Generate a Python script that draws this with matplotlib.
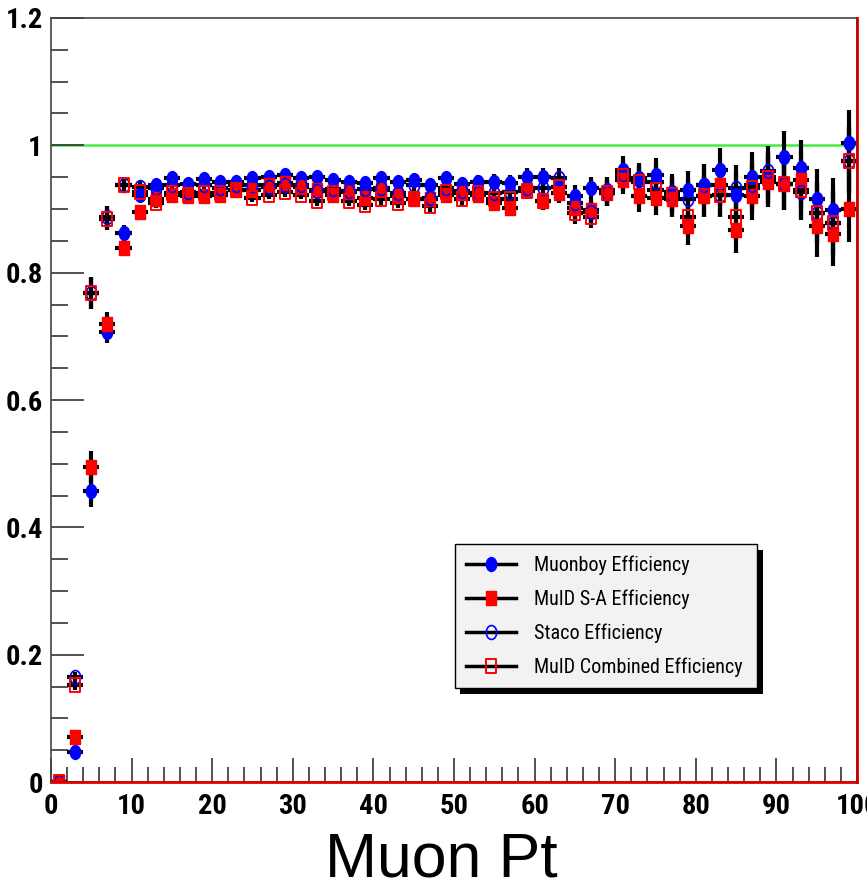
import numpy as np
import matplotlib
matplotlib.use("Agg")
import matplotlib.pyplot as plt
from matplotlib import font_manager, patheffects
from matplotlib.path import Path
from matplotlib.lines import Line2D
from matplotlib.ticker import MultipleLocator

# bin centres (2 GeV bins from 0 to 100)
pt_bins = np.arange(1, 100, 2)

muonboy_eff = [0.0, 0.047, 0.457, 0.707, 0.863, 0.922, 0.938, 0.949, 0.939, 0.947,
               0.943, 0.942, 0.949, 0.951, 0.954, 0.949, 0.951, 0.946, 0.943, 0.941,
               0.948, 0.943, 0.946, 0.938, 0.948, 0.939, 0.943, 0.943, 0.941, 0.951,
               0.951, 0.935, 0.920, 0.933, 0.930, 0.962, 0.948, 0.954, 0.927, 0.930,
               0.938, 0.962, 0.922, 0.951, 0.950, 0.981, 0.964, 0.915, 0.898, 1.003]
muid_sa_eff = [0.0, 0.071, 0.495, 0.720, 0.839, 0.896, 0.915, 0.922, 0.920, 0.920,
               0.922, 0.930, 0.930, 0.938, 0.941, 0.935, 0.930, 0.922, 0.927, 0.917,
               0.930, 0.920, 0.915, 0.915, 0.922, 0.925, 0.922, 0.909, 0.901, 0.930,
               0.912, 0.925, 0.901, 0.899, 0.925, 0.946, 0.920, 0.917, 0.915, 0.873,
               0.920, 0.938, 0.867, 0.920, 0.943, 0.940, 0.946, 0.873, 0.861, 0.900]
staco_eff = [0.0, 0.165, 0.768, 0.887, 0.938, 0.935, 0.933, 0.938, 0.927, 0.938,
             0.933, 0.937, 0.938, 0.935, 0.937, 0.937, 0.928, 0.932, 0.928, 0.932,
             0.933, 0.925, 0.938, 0.918, 0.933, 0.928, 0.925, 0.925, 0.927, 0.933,
             0.933, 0.948, 0.910, 0.895, 0.925, 0.955, 0.945, 0.943, 0.922, 0.915,
             0.938, 0.922, 0.933, 0.938, 0.959, 0.940, 0.927, 0.894, 0.878, 0.976]
muid_comb_eff = [0.0, 0.152, 0.768, 0.885, 0.938, 0.926, 0.909, 0.925, 0.922, 0.925,
                 0.925, 0.930, 0.918, 0.922, 0.926, 0.922, 0.912, 0.925, 0.912, 0.907,
                 0.915, 0.910, 0.915, 0.904, 0.927, 0.915, 0.925, 0.915, 0.915, 0.928,
                 0.912, 0.935, 0.894, 0.888, 0.925, 0.952, 0.943, 0.930, 0.922, 0.888,
                 0.920, 0.922, 0.888, 0.933, 0.948, 0.940, 0.930, 0.894, 0.878, 0.976]
# statistical error per bin (same sample for all algorithms)
eff_err = [0.0, 0.008, 0.025, 0.018, 0.012, 0.009, 0.008, 0.007, 0.007, 0.007,
           0.007, 0.007, 0.007, 0.007, 0.007, 0.007, 0.007, 0.007, 0.008, 0.008,
           0.008, 0.008, 0.009, 0.009, 0.010, 0.010, 0.011, 0.012, 0.012, 0.013,
           0.014, 0.016, 0.017, 0.018, 0.020, 0.022, 0.024, 0.026, 0.028, 0.030,
           0.032, 0.034, 0.036, 0.038, 0.040, 0.042, 0.045, 0.048, 0.050, 0.052]
bin_half_width = 1.0

labels = ["Muonboy Efficiency", "MuID S-A Efficiency", "Staco Efficiency", "MuID Combined Efficiency"]


# Pick a narrow sans font if one is around, ROOT labels look condensed
def pick_narrow():
    names = {f.name for f in font_manager.fontManager.ttflist}
    for cand in ["Liberation Sans Narrow", "Roboto Condensed", "Open Sans Condensed", "DejaVu Sans Condensed"]:
        if cand in names:
            return cand, "normal"
    path = font_manager.findfont(font_manager.FontProperties(family="DejaVu Sans", stretch="condensed", weight="bold"))
    if "Condensed" in path:
        return "DejaVu Sans", "condensed"
    return None, "normal"


narrow_family, narrow_stretch = pick_narrow()
if narrow_family:
    tick_fam = [narrow_family, "Liberation Sans", "DejaVu Sans"]
    tick_size, leg_size = 20.5, 14.5
else:
    tick_fam = ["Liberation Sans", "DejaVu Sans"]
    tick_size, leg_size = 18, 12.5

# ROOT-ish stretched markers
ellipse = Path.unit_circle().transformed(matplotlib.transforms.Affine2D().scale(0.75, 1.0))
rect = Path([(-0.78, -1), (0.78, -1), (0.78, 1), (-0.78, 1), (-0.78, -1)],
            [Path.MOVETO, Path.LINETO, Path.LINETO, Path.LINETO, Path.CLOSEPOLY])

styles = [
    dict(marker=ellipse, mfc="#0000ff", mec="#0000ff", ms=10, mew=1),
    dict(marker=rect, mfc="#ff0000", mec="#ff0000", ms=10, mew=1),
    dict(marker=ellipse, mfc="none", mec="#0000ff", ms=10, mew=1.2),
    dict(marker=rect, mfc="none", mec="#ff0000", ms=10, mew=1.4),
]
series = [muonboy_eff, muid_sa_eff, staco_eff, muid_comb_eff]

tick_font = dict(family=tick_fam, weight="bold", size=tick_size, stretch=narrow_stretch)

fig = plt.figure(figsize=(8.67, 8.90), dpi=100)
ax = fig.add_axes([0.0588, 0.1213, 0.9297, 0.8585])

ax.axhline(1.0, color="#44ee44", lw=1.8, zorder=1)

for vals in series:
    ax.errorbar(pt_bins, vals, xerr=bin_half_width, yerr=eff_err, fmt="none",
                ecolor="black", elinewidth=3, capsize=0, zorder=2)
for vals, st in zip(series, styles):
    ax.plot(pt_bins, vals, linestyle="none", zorder=3, **st)

ax.set_xlim(0, 100)
ax.set_ylim(0, 1.2)

# red frame lines on bottom and right, like the ROOT histogram frame
ax.axhline(0.0, color="#dd0000", lw=2, zorder=4, clip_on=False)
ax.axvline(100, color="#cc0000", lw=2, zorder=4, clip_on=False)

for side in ["left", "top", "bottom", "right"]:
    ax.spines[side].set_color("#444444")
    ax.spines[side].set_linewidth(1.2)

ax.xaxis.set_minor_locator(MultipleLocator(2))
ax.yaxis.set_minor_locator(MultipleLocator(0.05))
ax.tick_params(axis="x", which="major", direction="in", length=17, width=1.2, color="#333333", pad=8)
ax.tick_params(axis="x", which="minor", direction="in", length=11, width=1.2, color="#333333")
ax.tick_params(axis="y", which="major", direction="in", length=24, width=1.2, color="#333333", pad=6)
ax.tick_params(axis="y", which="minor", direction="in", length=12, width=1.2, color="#333333")
ax.tick_params(top=False, right=False)

xt = list(range(0, 101, 10))
ax.set_xticks(xt)
ax.set_xticklabels([str(v) for v in xt], fontdict=tick_font)
yt = [0, 0.2, 0.4, 0.6, 0.8, 1.0, 1.2]
ax.set_yticks(yt)
ax.set_yticklabels(["0", "0.2", "0.4", "0.6", "0.8", "1", "1.2"], fontdict=tick_font)

ax.set_xlabel("Muon Pt", family=["Liberation Sans", "DejaVu Sans"], fontsize=45)
ax.xaxis.set_label_coords(0.484, -0.063, transform=ax.transAxes)
ax.xaxis.label.set_va("top")

handles = [Line2D([0], [0], color="black", lw=2.5, **st) for st in styles]
leg = ax.legend(handles, labels, loc="lower left", bbox_to_anchor=(0.501, 0.123, 0.375, 0.187),
                mode="expand", fancybox=False, edgecolor="black", facecolor="#f2f2f2", framealpha=1,
                borderaxespad=0,
                prop=dict(family=tick_fam if narrow_family else ["Liberation Sans", "DejaVu Sans"],
                          size=leg_size, stretch=narrow_stretch),
                handlelength=2.5, handletextpad=0.9, labelspacing=0.72, borderpad=0.55)
leg.get_frame().set_linewidth(1.0)
leg.get_frame().set_path_effects([patheffects.SimplePatchShadow(offset=(4, -4), shadow_rgbFace="black", alpha=1),
                                  patheffects.Normal()])

fig.savefig("out.png", dpi=100)
